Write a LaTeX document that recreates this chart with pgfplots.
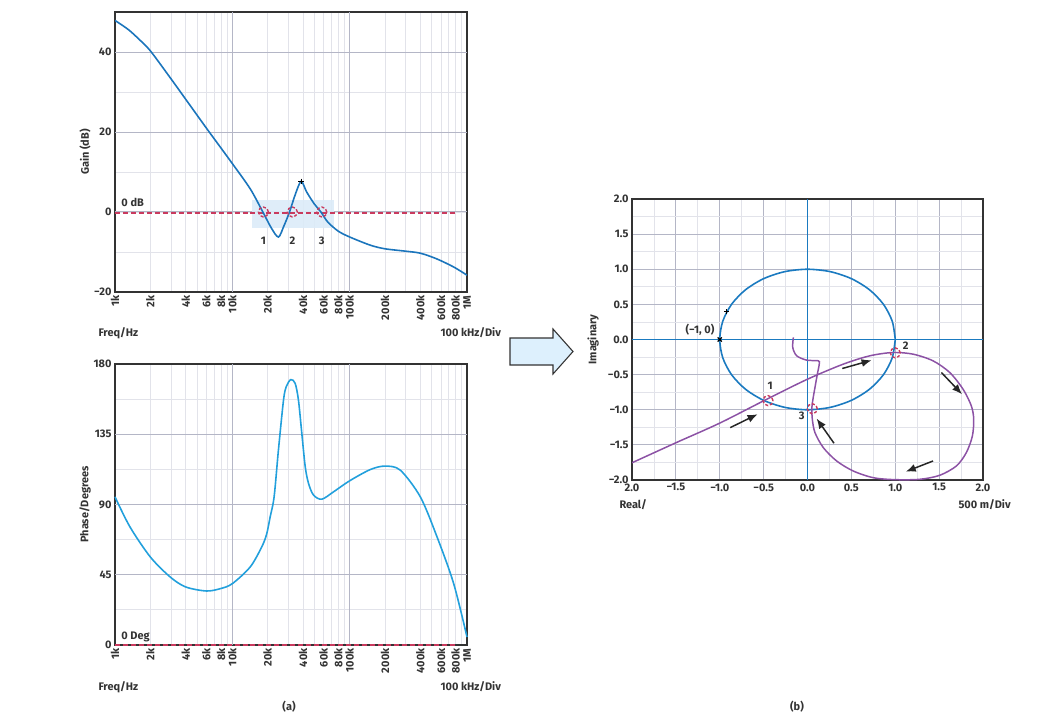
\documentclass[border=0pt]{standalone}
\usepackage{pgfplots}
\pgfplotsset{compat=1.18}
\usepackage{fontspec}
\setmainfont{Fira Sans}
\usetikzlibrary{arrows.meta}
\definecolor{gainblue}{HTML}{1B75BC}
\definecolor{phaseblue}{HTML}{22A0DC}
\definecolor{circblue}{HTML}{1A7AC0}
\definecolor{nyqpurple}{HTML}{8C52A5}
\definecolor{crim}{HTML}{C93A5E}
\definecolor{rectblue}{HTML}{DCEBF8}
\definecolor{gridminor}{HTML}{E2E3EA}
\definecolor{gridmajor}{HTML}{B4B6C6}
\definecolor{framec}{HTML}{333333}
\definecolor{arrowfill}{HTML}{DDF0FD}
\newcommand{\lf}{\bfseries\fontsize{11}{12}\selectfont}
\pgfplotsset{
  every axis/.append style={
    scale only axis, anchor=north west,
    axis line style={framec, line width=1.4pt},
    major tick length=0pt, minor tick length=0pt,
    tick style={draw=none},
    grid=both,
    minor grid style={gridminor, line width=0.8pt},
    major grid style={gridminor, line width=0.8pt},
    tick label style={font=\lf, text=framec},
    label style={font=\lf, text=framec},
  },
}
\begin{document}
\begin{tikzpicture}
\useasboundingbox (0,0) rectangle (1040bp,-720bp);
% ---------------- Gain ----------------
\begin{axis}[at={(115bp,-12bp)}, width=352bp, height=280bp,
  xmode=log, xmin=1000, xmax=1000000,
  xtick={1000,2000,4000,6000,8000,10000,20000,40000,60000,80000,100000,200000,400000,600000,800000,1000000},
  xticklabels={1k,2k,4k,6k,8k,10k,20k,40k,60k,80k,100k,200k,400k,600k,800k,1M},
  minor xtick={3000,5000,7000,9000,30000,50000,70000,90000,300000,500000,700000,900000},
  x tick label style={rotate=90, anchor=east},
  ylabel style={at={(axis description cs:-0.085,0.5)}, anchor=center},
  ymin=-20, ymax=50, ytick={-20,0,20,40}, yticklabels={−20,0,20,40},
  minor ytick={-10,10,30},
  ylabel={Gain (dB)}]
\addplot[gridmajor, line width=1pt] coordinates {(10000,-20) (10000,50)};
\addplot[gridmajor, line width=1pt] coordinates {(100000,-20) (100000,50)};
\addplot[gridmajor, line width=1pt] coordinates {(1000,0) (1000000,0)};
\addplot[gridmajor, line width=1pt] coordinates {(1000,20) (1000000,20)};
\addplot[gridmajor, line width=1pt] coordinates {(1000,40) (1000000,40)};
\addplot[fill=rectblue, draw=none, fill opacity=0.9] coordinates {(14700,3.1) (72900,3.1) (72900,-4.0) (14700,-4.0)} --cycle;
\addplot[crim, line width=1.7pt, dash pattern=on 5pt off 3pt] coordinates {(1000,-0.3) (820000,-0.3)};
\addplot[gainblue, line width=1.6pt, smooth] coordinates {
(1000,47.9) (1300,45.6) (1600,43.2) (2000,40.3) (3000,33.3) (4000,28.2) (6000,21.0)
(8000,16.0) (10000,12.1) (14200,5.8) (18200,0) (21500,-4.0) (24700,-6.25) (27500,-3.5) (30700,0)
(34500,4.5) (38600,7.65) (43000,5.0) (50000,2.0) (56900,0) (65000,-2.5) (80000,-4.8)
(100000,-6.25) (150000,-8.3) (200000,-9.2) (300000,-9.8) (400000,-10.3) (550000,-11.7)
(770000,-13.75) (1000000,-15.8)};
\addplot[only marks, mark=o, mark size=5pt, mark options={crim, line width=1.4pt, dash pattern=on 3pt off 2pt}] coordinates {(18400,0) (32500,0) (57900,0)};
\addplot[only marks, mark=+, mark size=2.8pt, mark options={black, line width=1pt}] coordinates {(38600,7.65)};
\node[font=\lf, anchor=base west, text=framec] at (axis cs:1060,1.3) {0 dB};
\node[font=\lf, text=framec] at (axis cs:18400,-7.1) {1};
\node[font=\lf, text=framec] at (axis cs:32500,-7.1) {2};
\node[font=\lf, text=framec] at (axis cs:57900,-7.1) {3};
\end{axis}
% ---------------- Phase ----------------
\begin{axis}[at={(115bp,-364bp)}, width=352bp, height=281bp,
  xmode=log, xmin=1000, xmax=1000000,
  xtick={1000,2000,4000,6000,8000,10000,20000,40000,60000,80000,100000,200000,400000,600000,800000,1000000},
  xticklabels={1k,2k,4k,6k,8k,10k,20k,40k,60k,80k,100k,200k,400k,600k,800k,1M},
  minor xtick={3000,5000,7000,9000,30000,50000,70000,90000,300000,500000,700000,900000},
  x tick label style={rotate=90, anchor=east},
  ylabel style={at={(axis description cs:-0.085,0.5)}, anchor=center},
  ymin=0, ymax=180, ytick={0,45,90,135,180}, yticklabels={0,45,90,135,180},
  minor ytick={22.5,67.5,112.5,157.5},
  clip=false,
  ylabel={Phase/Degrees}]
\addplot[gridmajor, line width=1pt] coordinates {(10000,0) (10000,180)};
\addplot[gridmajor, line width=1pt] coordinates {(100000,0) (100000,180)};
\addplot[gridmajor, line width=1pt] coordinates {(1000,45) (1000000,45)};
\addplot[gridmajor, line width=1pt] coordinates {(1000,90) (1000000,90)};
\addplot[gridmajor, line width=1pt] coordinates {(1000,135) (1000000,135)};
\addplot[crim, line width=1.7pt, dash pattern=on 5pt off 3pt] coordinates {(1000,0) (820000,0)};
\addplot[phaseblue, line width=1.6pt, smooth] coordinates {
(1000,94.9) (1340,75.7) (2000,56.4) (2950,43.6) (4000,37.2) (6000,34.6) (7900,36.1)
(10000,39.3) (14200,50) (17800,62.8) (19600,71) (21000,82) (22700,94.9) (24700,124.8)
(27300,156.9) (28800,165.5) (31500,170) (34300,167.6) (36600,156.9) (39100,135.5)
(41800,114.2) (44600,103.5) (49200,96) (57900,93.4) (72800,98.1) (100000,105.2)
(150000,112.4) (200000,114.6) (270000,112) (400000,94.9) (555000,69.3) (770000,39.3)
(1000000,5.1)};
\node[font=\lf, anchor=base west, text=framec] at (axis cs:1060,3.5) {0 Deg};
\end{axis}
% ---------------- Nyquist ----------------
\begin{axis}[at={(632bp,-199bp)}, width=351bp, height=281bp,
  xmin=-2, xmax=2, ymin=-2, ymax=2,
  xtick={-2,-1.5,-1,-0.5,0,0.5,1,1.5,2},
  xticklabels={2.0,−1.5,−1.0,−0.5,0.0,0.5,1.0,1.5,2.0},
  ytick={-2,-1.5,-1,-0.5,0,0.5,1,1.5,2},
  yticklabels={−2.0,−1.5,−1.0,−0.5,0.0,0.5,1.0,1.5,2.0},
  minor xtick={-1.75,-1.25,-0.75,-0.25,0.25,0.75,1.25,1.75},
  minor ytick={-1.75,-1.25,-0.75,-0.25,0.25,0.75,1.25,1.75},
  major grid style={gridmajor, line width=1pt},
  minor grid style={gridminor, line width=0.8pt},
  ylabel={Imaginary},
  ylabel style={at={(axis description cs:-0.111,0.5)}, anchor=center}]
\addplot[circblue, line width=1.6pt] coordinates {(-2,0) (2,0)};
\addplot[circblue, line width=1.6pt] coordinates {(0,-2) (0,2)};
\addplot[circblue, line width=1.6pt, smooth] coordinates {
(1,0) (0.9659,0.2588) (0.8660,0.5) (0.7071,0.7071) (0.5,0.8660) (0.2588,0.9659) (0,1)
(-0.2588,0.9659) (-0.5,0.8660) (-0.7071,0.7071) (-0.8660,0.5) (-0.9659,0.2588) (-1,0)
(-0.9659,-0.2588) (-0.8660,-0.5) (-0.7071,-0.7071) (-0.5,-0.8660) (-0.2588,-0.9659) (0,-1)
(0.2588,-0.9659) (0.5,-0.8660) (0.7071,-0.7071) (0.8660,-0.5) (0.9659,-0.2588) (1,0)};
\addplot[nyqpurple, line width=1.5pt, smooth] coordinates {
(-2.0,-1.755) (-1.5,-1.47) (-1.0,-1.19) (-0.464,-0.85) (0.0,-0.565) (0.407,-0.351)
(0.711,-0.232) (0.976,-0.185) (1.204,-0.209) (1.431,-0.304) (1.621,-0.470) (1.773,-0.708)
(1.867,-0.945) (1.894,-1.135) (1.879,-1.373) (1.810,-1.610) (1.697,-1.800) (1.507,-1.933)
(1.280,-1.99) (0.995,-1.995) (0.749,-1.967) (0.521,-1.872) (0.332,-1.729) (0.180,-1.539)
(0.085,-1.325) (0.055,-1.135) (0.050,-0.969) (0.066,-0.82) (0.085,-0.684) (0.112,-0.494)
(0.134,-0.35) (0.123,-0.303) (-0.009,-0.294) (-0.123,-0.232) (-0.168,-0.114) (-0.161,0.03)};
\addplot[only marks, mark=o, mark size=5pt, mark options={crim, line width=1.4pt, dash pattern=on 3pt off 2pt}] coordinates {(-0.45,-0.87) (1.0,-0.19) (0.055,-0.985)};
\addplot[only marks, mark=x, mark size=3pt, mark options={black, line width=1.3pt}] coordinates {(-1,0)};
\addplot[only marks, mark=+, mark size=2.5pt, mark options={black, line width=1pt}] coordinates {(-0.919,0.394)};
\node[font=\lf, text=framec] at (axis cs:-1.225,0.138) {(−1, 0)};
\node[font=\lf, text=framec] at (axis cs:-0.426,-0.66) {1};
\node[font=\lf, text=framec] at (axis cs:1.12,-0.095) {2};
\node[font=\lf, text=framec] at (axis cs:-0.066,-1.088) {3};
\draw[-{Latex[length=10bp,width=8bp]}, line width=1.5pt, black!85] (axis cs:-0.880,-1.254) -- (axis cs:-0.569,-1.064);
\draw[-{Latex[length=10bp,width=8bp]}, line width=1.5pt, black!85] (axis cs:0.396,-0.413) -- (axis cs:0.730,-0.295);
\draw[-{Latex[length=10bp,width=8bp]}, line width=1.5pt, black!85] (axis cs:1.526,-0.470) -- (axis cs:1.761,-0.779);
\draw[-{Latex[length=10bp,width=8bp]}, line width=1.5pt, black!85] (axis cs:1.431,-1.729) -- (axis cs:1.120,-1.881);
\draw[-{Latex[length=10bp,width=8bp]}, line width=1.5pt, black!85] (axis cs:0.302,-1.477) -- (axis cs:0.104,-1.126);
\end{axis}
% ---------------- text and arrow ----------------
\node[font=\lf, text=framec, anchor=west] at (95bp,-333bp) {Freq/Hz};
\node[font=\lf, text=framec, anchor=west] at (437bp,-333bp) {100 kHz/Div};
\node[font=\lf, text=framec, anchor=west] at (95bp,-687bp) {Freq/Hz};
\node[font=\lf, text=framec, anchor=west] at (437bp,-687bp) {100 kHz/Div};
\node[font=\lf, text=framec] at (289bp,-707bp) {(a)};
\node[font=\lf, text=framec] at (797bp,-707bp) {(b)};
\node[font=\lf, text=framec, anchor=west] at (616bp,-505bp) {Real/};
\node[font=\lf, text=framec, anchor=west] at (955bp,-505bp) {500 m/Div};
\draw[fill=arrowfill, draw=framec, line width=1.1pt] (510bp,-338bp) -- (553bp,-338bp) -- (553bp,-329bp) -- (573bp,-351.5bp) -- (553bp,-374bp) -- (553bp,-365bp) -- (510bp,-365bp) -- cycle;
\end{tikzpicture}
\end{document}
